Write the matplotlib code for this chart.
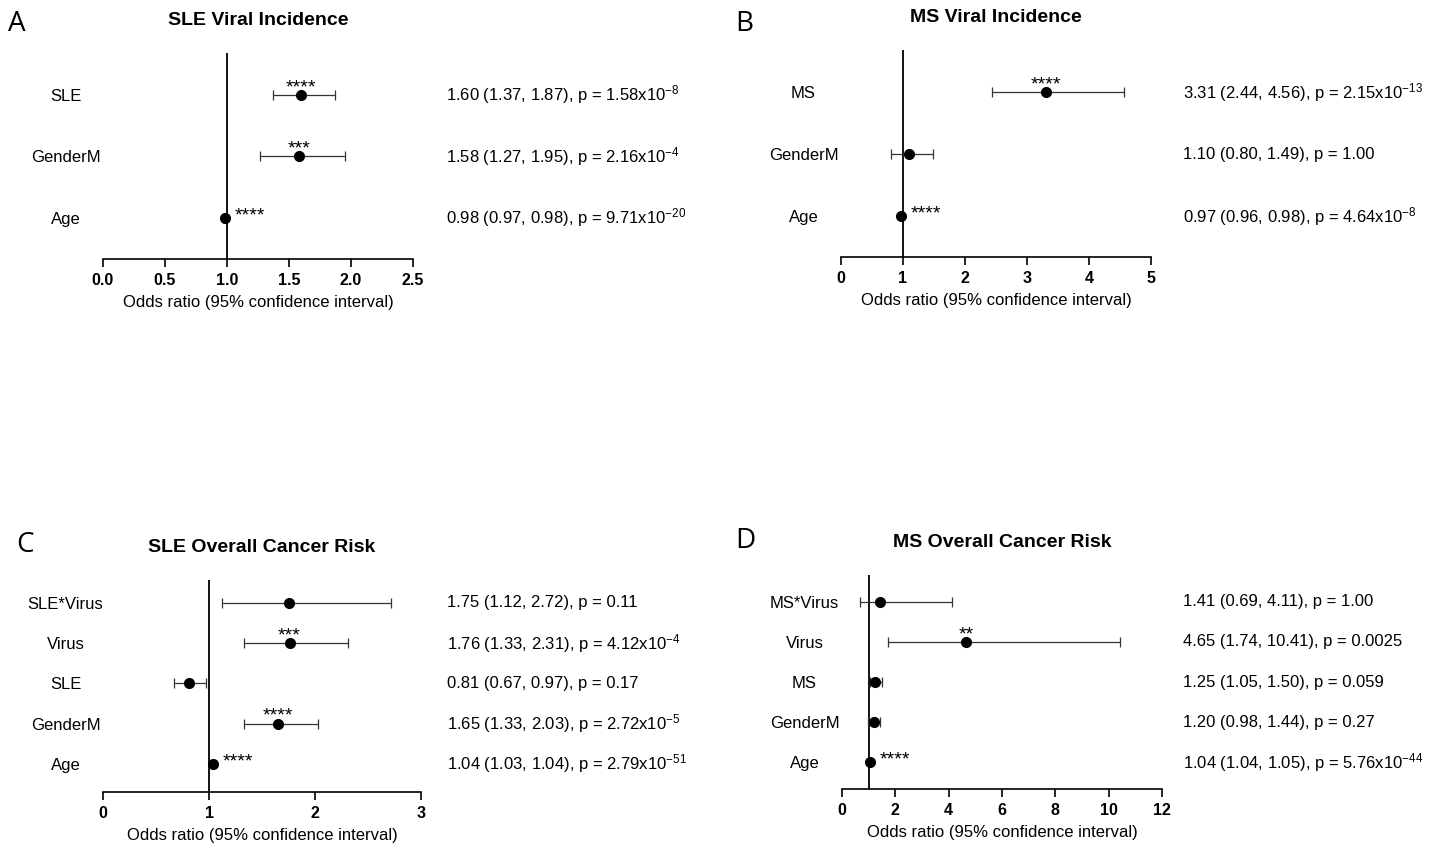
import matplotlib
matplotlib.use("Agg")
import matplotlib.pyplot as plt

plt.rcParams["font.family"] = ["Liberation Sans", "DejaVu Sans"]
plt.rcParams["mathtext.fontset"] = "custom"
plt.rcParams["mathtext.rm"] = "Liberation Sans"
plt.rcParams["mathtext.default"] = "regular"

# A - SLE viral incidence
a_labels = ["SLE", "GenderM", "Age"]
a_or = [1.60, 1.58, 0.98]
a_lo = [1.37, 1.27, 0.97]
a_hi = [1.87, 1.95, 0.98]
a_stars = ["****", "***", "****"]
a_text = ["1.60 (1.37, 1.87), p = 1.58x10$^{-8}$",
          "1.58 (1.27, 1.95), p = 2.16x10$^{-4}$",
          "0.98 (0.97, 0.98), p = 9.71x10$^{-20}$"]
a_ticks = [0.0, 0.5, 1.0, 1.5, 2.0, 2.5]

# B - MS viral incidence
b_labels = ["MS", "GenderM", "Age"]
b_or = [3.31, 1.10, 0.97]
b_lo = [2.44, 0.80, 0.96]
b_hi = [4.56, 1.49, 0.98]
b_stars = ["****", "", "****"]
b_text = ["3.31 (2.44, 4.56), p = 2.15x10$^{-13}$",
          "1.10 (0.80, 1.49), p = 1.00",
          "0.97 (0.96, 0.98), p = 4.64x10$^{-8}$"]
b_ticks = [0, 1, 2, 3, 4, 5]

# C - SLE overall cancer risk
c_labels = ["SLE*Virus", "Virus", "SLE", "GenderM", "Age"]
c_or = [1.75, 1.76, 0.81, 1.65, 1.04]
c_lo = [1.12, 1.33, 0.67, 1.33, 1.03]
c_hi = [2.72, 2.31, 0.97, 2.03, 1.04]
c_stars = ["", "***", "", "****", "****"]
c_text = ["1.75 (1.12, 2.72), p = 0.11",
          "1.76 (1.33, 2.31), p = 4.12x10$^{-4}$",
          "0.81 (0.67, 0.97), p = 0.17",
          "1.65 (1.33, 2.03), p = 2.72x10$^{-5}$",
          "1.04 (1.03, 1.04), p = 2.79x10$^{-51}$"]
c_ticks = [0, 1, 2, 3]

# D - MS overall cancer risk
d_labels = ["MS*Virus", "Virus", "MS", "GenderM", "Age"]
d_or = [1.41, 4.65, 1.25, 1.20, 1.04]
d_lo = [0.69, 1.74, 1.05, 0.98, 1.04]
d_hi = [4.11, 10.41, 1.50, 1.44, 1.05]
d_stars = ["", "**", "", "", "****"]
d_text = ["1.41 (0.69, 4.11), p = 1.00",
          "4.65 (1.74, 10.41), p = 0.0025",
          "1.25 (1.05, 1.50), p = 0.059",
          "1.20 (0.98, 1.44), p = 0.27",
          "1.04 (1.04, 1.05), p = 5.76x10$^{-44}$"]
d_ticks = [0, 2, 4, 6, 8, 10, 12]

W, H = 1450, 847
fig = plt.figure(figsize=(W / 100, H / 100), dpi=100)


def px_rect(x0, x1, ytop, ybot):
    return [x0 / W, 1 - ybot / H, (x1 - x0) / W, (ybot - ytop) / H]


def forest(rect, letter, letter_xy, title, labels, orr, lo, hi, stars, texts,
           ticks, tick_fmt, text_dx, pad_m):
    ax = fig.add_axes(rect)
    n = len(labels)
    y = [n - 1 - i for i in range(n)]
    xerr = [[o - l for o, l in zip(orr, lo)], [h - o for o, h in zip(orr, hi)]]
    ax.axvline(1, color="black", lw=1.3, zorder=1)
    ax.errorbar(orr, y, xerr=xerr, fmt="o", color="black", ms=7,
                ecolor="#333333", elinewidth=0.9, capsize=3.5, capthick=0.9,
                zorder=3)
    # significance stars: above the point, or to the right for Age
    for i in range(n):
        if not stars[i]:
            continue
        if labels[i] == "Age":
            ax.annotate(stars[i], xy=(orr[i], y[i]), xytext=(7, -2),
                        textcoords="offset points", ha="left", va="baseline",
                        fontsize=14)
        else:
            ax.annotate(stars[i], xy=(orr[i], y[i]), xytext=(0, 2),
                        textcoords="offset points", ha="center",
                        va="baseline", fontsize=14)
    for i in range(n):
        ax.annotate(texts[i], xy=(1, y[i]),
                    xycoords=("axes fraction", "data"),
                    xytext=(text_dx * 0.72, 0), textcoords="offset points",
                    ha="left", va="center", fontsize=12)
    ax.set_xlim(ticks[0], ticks[-1])
    ax.set_ylim(-pad_m[0], n - 1 + pad_m[1])
    ax.set_xticks(ticks)
    ax.set_xticklabels([tick_fmt.format(t) for t in ticks], fontweight="bold",
                       fontsize=11.5)
    ax.set_yticks(y)
    ax.set_yticklabels(labels, fontsize=12, ha="center")
    ax.tick_params(axis="y", length=0, pad=27)
    ax.tick_params(axis="x", length=6, width=1.2, pad=4)
    for s in ["top", "right", "left"]:
        ax.spines[s].set_visible(False)
    ax.spines["bottom"].set_linewidth(1.2)
    ax.set_xlabel("Odds ratio (95% confidence interval)", fontsize=12,
                  labelpad=5)
    ax.set_title(title, fontsize=14, fontweight="bold", pad=20)
    fig.text(letter_xy[0] / W, 1 - letter_xy[1] / H, letter,
             family="Open Sans", fontsize=20, ha="left", va="center")
    return ax


forest(px_rect(103, 413, 53, 259), "A", (8, 24), "SLE Viral Incidence",
       a_labels, a_or, a_lo, a_hi, a_stars, a_text, a_ticks, "{:.1f}", 33,
       (0.67, 0.68))
forest(px_rect(841, 1151, 50, 257), "B", (735, 24), "MS Viral Incidence",
       b_labels, b_or, b_lo, b_hi, b_stars, b_text, b_ticks, "{:d}", 32,
       (0.66, 0.68))
forest(px_rect(103, 421, 580, 792), "C", (16, 545), "SLE Overall Cancer Risk",
       c_labels, c_or, c_lo, c_hi, c_stars, c_text, c_ticks, "{:d}", 26,
       (0.7, 0.57))
forest(px_rect(842, 1162, 575, 789), "D", (735, 541), "MS Overall Cancer Risk",
       d_labels, d_or, d_lo, d_hi, d_stars, d_text, d_ticks, "{:d}", 21,
       (0.67, 0.67))

fig.savefig("out.png", dpi=100)
